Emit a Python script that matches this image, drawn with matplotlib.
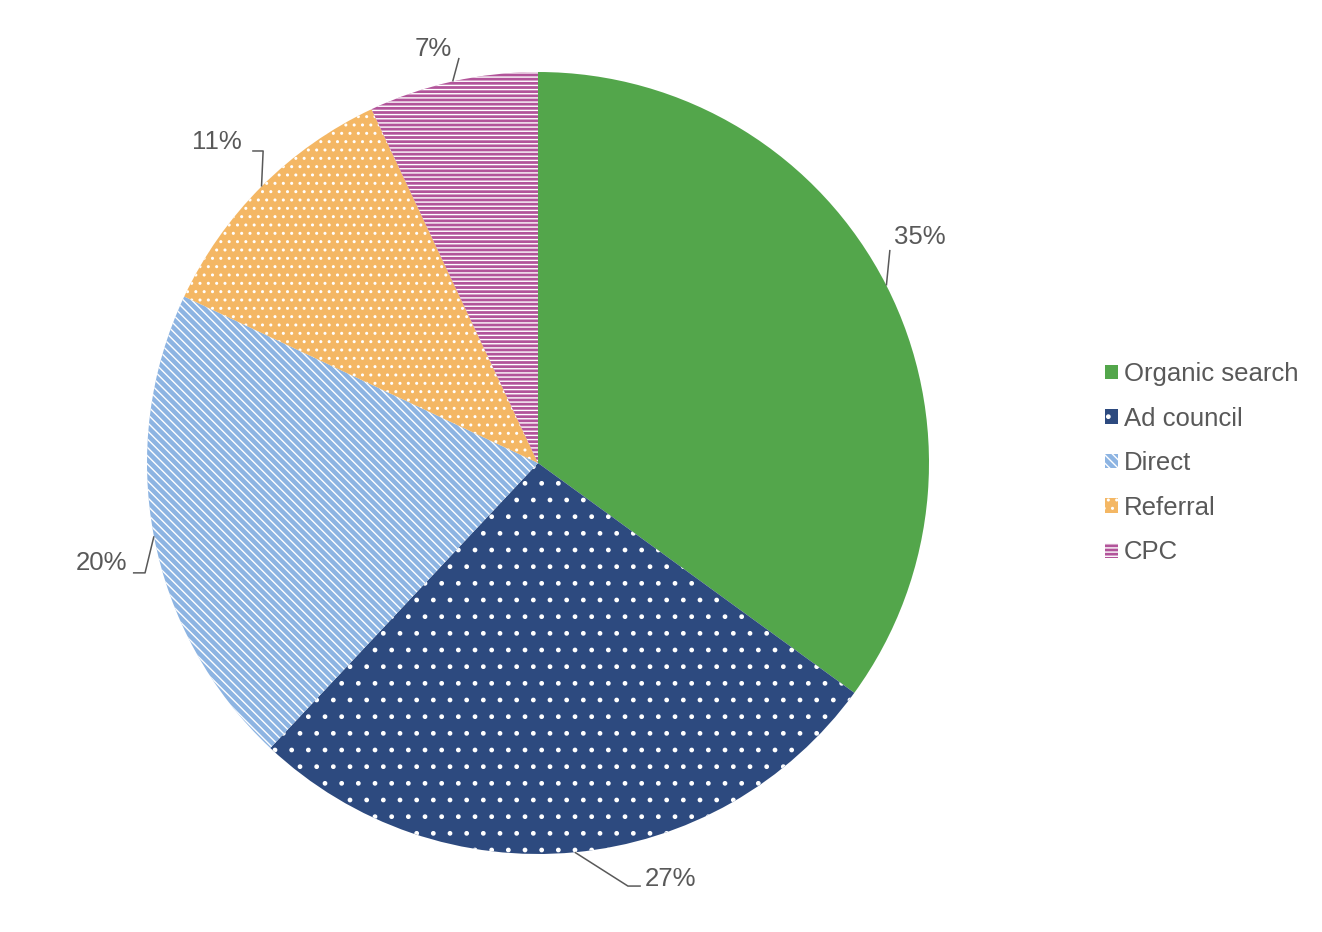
import matplotlib.pyplot as plt
import numpy as np

# dados do grafico
canais = ['Organic search', 'Ad council', 'Direct', 'Referral', 'CPC']
percentuais = [35, 27, 20, 11, 7]
rotulos = ['35%', '27%', '20%', '11%', '7%']

cores = ['#53A64B', '#2D4A7F', '#8DB4E2', '#F4B764', '#B2549A']
hachuras = [None, '.', '\\\\\\\\', '..', '----']

plt.rcParams['font.family'] = ['Liberation Sans', 'DejaVu Sans']
plt.rcParams['hatch.linewidth'] = 1.0
cinza = '#595959'

fig = plt.figure(figsize=(13.22, 9.32), dpi=100)
fig.patch.set_facecolor('white')
ax = fig.add_axes([0, 0, 1, 1])

wedges, _ = ax.pie(percentuais, colors=cores, startangle=90, counterclock=False,
                   radius=1.0, wedgeprops=dict(linewidth=0, edgecolor='white'))
for w, h in zip(wedges, hachuras):
    if h:
        w.set_hatch(h)

# unidade = raio do pizza (391 px)
r_px = 391.0
cx, cy = 538.0, 463.0
ax.set_xlim(-cx / r_px, (1322 - cx) / r_px)
ax.set_ylim(-(932 - cy) / r_px, cy / r_px)
ax.set_aspect('auto')
ax.axis('off')

# posicao dos rotulos: cotovelo, fim da linha horizontal, texto
layout = [
    ((0.900, 0.545), None, (0.910, 0.578), 'left'),
    ((0.230, -1.082), (0.263, -1.082), (0.274, -1.064), 'left'),
    ((-1.005, -0.281), (-1.036, -0.281), (-1.051, -0.256), 'right'),
    ((-0.703, 0.798), (-0.731, 0.798), (-0.757, 0.821), 'right'),
    ((-0.202, 1.036), None, (-0.220, 1.058), 'right'),
]

for w, rot, (cot, fim, txt, ha) in zip(wedges, rotulos, layout):
    ang = np.deg2rad((w.theta1 + w.theta2) / 2)
    x0, y0 = np.cos(ang), np.sin(ang)
    xs = [x0, cot[0]]
    ys = [y0, cot[1]]
    if fim is not None:
        xs.append(fim[0])
        ys.append(fim[1])
    ax.plot(xs, ys, color=cinza, lw=1.1, solid_capstyle='butt')
    ax.text(txt[0], txt[1], rot, ha=ha, va='center', fontsize=18.5, color=cinza)

leg = fig.legend(handles=wedges, labels=canais, loc='center left',
                 bbox_to_anchor=(0.826, 0.503), frameon=False, fontsize=18.5,
                 handlelength=0.5, handleheight=0.5, handletextpad=0.25,
                 labelspacing=0.8, borderpad=0, labelcolor=cinza)

fig.savefig('out.png', dpi=100, facecolor='white')
